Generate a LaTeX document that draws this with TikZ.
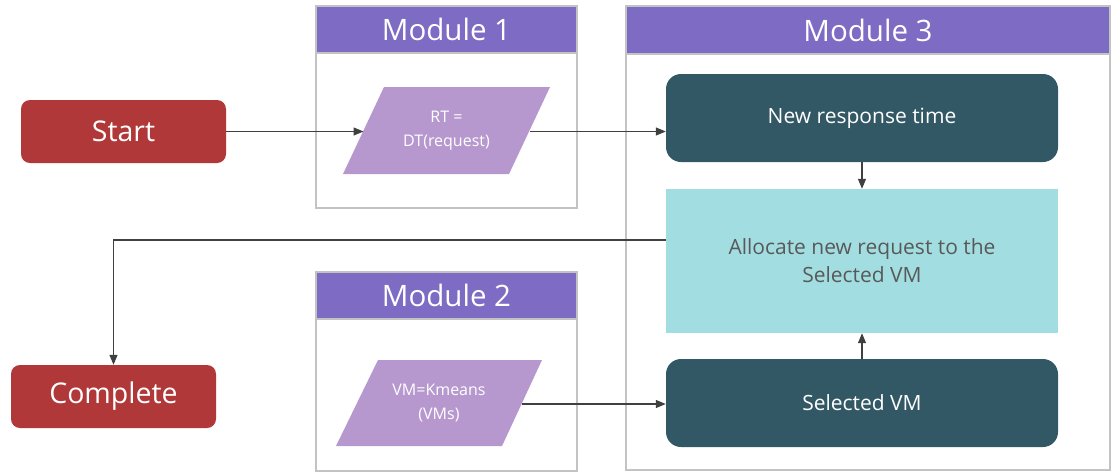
\documentclass[tikz,border=0pt]{standalone}
\usepackage{fontspec}
\setmainfont{Open Sans}
\usetikzlibrary{arrows.meta}
\definecolor{hdr}{HTML}{7E6BC4}
\definecolor{frame}{HTML}{C3C3C3}
\definecolor{term}{HTML}{B03838}
\definecolor{para}{HTML}{B698CF}
\definecolor{tealbox}{HTML}{325866}
\definecolor{cyanbox}{HTML}{A2DEE1}
\definecolor{txtgray}{HTML}{595959}
\definecolor{arr}{HTML}{404040}
\begin{document}
\begin{tikzpicture}[x=1pt,y=-1pt,
  terminal/.style={fill=term, rounded corners=9pt, minimum width=205pt, minimum height=63pt, text=white, font=\fontsize{28.5}{32}\selectfont, inner sep=0pt},
  container/.style={draw=frame, line width=2pt, fill=white, inner sep=0pt},
  header/.style={draw=frame, line width=2pt, fill=hdr, text=white, font=\fontsize{29.5}{32}\selectfont, inner sep=0pt},
  darkbox/.style={fill=tealbox, rounded corners=15pt, minimum width=392pt, minimum height=88pt, text=white, font=\fontsize{21}{28}\selectfont, inner sep=0pt},
  lightbox/.style={fill=cyanbox, minimum width=392pt, minimum height=144pt, text=txtgray, font=\fontsize{21}{28}\selectfont, align=center, inner sep=0pt},
  paratext/.style={text=white, align=center, font=\fontsize{16}{24}\selectfont, inner sep=0pt},
  conn/.style={draw=arr, line width=1.2pt, -{Triangle[length=10pt,width=8pt]}}
]
\useasboundingbox (0,0) rectangle (1119,472);
\fill[white] (0,0) rectangle (1119,472);

% containers
\node[container, minimum width=261pt, minimum height=202pt] (m1) at (446.5,107) {};
\node[container, minimum width=261pt, minimum height=199pt] (m2) at (446.5,371.5) {};
\node[container, minimum width=484pt, minimum height=464pt] (m3) at (868,238) {};
\node[header, minimum width=261pt, minimum height=47pt] (h1) at (446.5,29.5) {Module 1};
\node[header, minimum width=261pt, minimum height=47pt] (h2) at (446.5,295.5) {Module 2};
\node[header, minimum width=484pt, minimum height=48pt] (h3) at (868,30) {Module 3};

% terminals
\node[terminal] (start) at (123.5,131.5) {Start};
\node[terminal] (complete) at (113.5,396.5) {Complete};

% parallelograms
\fill[para] (343,174) -- (384,87) -- (550,87) -- (509,174) -- cycle;
\node[paratext] (p1) at (446.5,131) {RT =\\DT(request)};
\coordinate (p1in) at (363.5,131.5);
\coordinate (p1out) at (529.5,131.5);
\fill[para] (336,446) -- (378,360) -- (542,360) -- (502,446) -- cycle;
\node[paratext] (p2) at (439,403.5) {VM=Kmeans\\(VMs)};
\coordinate (p2out) at (521.5,404);

% module 3 boxes
\node[darkbox] (nrt) at (862,118) {New response time};
\node[lightbox] (alloc) at (862,261) {Allocate new request to the\\Selected VM};
\node[darkbox] (sel) at (862,403) {Selected VM};

% connectors
\draw[conn] (start.east) -- (p1in);
\draw[conn] (p1out) -- (nrt.west |- p1out);
\draw[conn] (nrt.south) -- (alloc.north);
\draw[conn] (sel.north) -- (alloc.south);
\draw[conn] (p2out) -- (sel.west |- p2out);
\draw[conn] ([yshift=21pt]alloc.west) -| (complete.north);
\end{tikzpicture}
\end{document}
